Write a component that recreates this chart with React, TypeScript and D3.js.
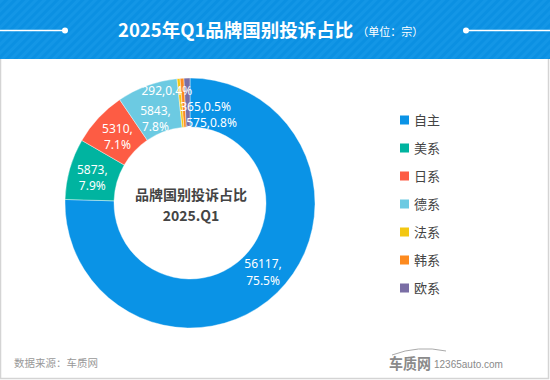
import React from "react";
import * as d3 from "d3";

const categories = ["自主", "美系", "日系", "德系", "法系", "韩系", "欧系"];
const values = [56117, 5873, 5310, 5843, 292, 365, 575];
const percents = ["75.5%", "7.9%", "7.1%", "7.8%", "0.4%", "0.5%", "0.8%"];
const colors = ["#0a93e6", "#00b4a0", "#fd5c44", "#6ccae2", "#f3c712", "#fd8a1f", "#7a6ea5"];
const titleText = "2025年Q1品牌国别投诉占比";
const unitText = "（单位：宗）";
const centerLines = ["品牌国别投诉占比", "2025.Q1"];
const sourceText = "数据来源：车质网";

// label layout: whether label is one line, and nudge for crowded small slices
const labelLayout: Record<string, { oneLine: boolean; dx: number; dy: number }> = {
  自主: { oneLine: false, dx: 3, dy: -3 },
  美系: { oneLine: false, dx: -1, dy: 2 },
  日系: { oneLine: false, dx: 1, dy: 2 },
  德系: { oneLine: false, dx: 0, dy: 10 },
  法系: { oneLine: true, dx: -14, dy: -12.5 },
  韩系: { oneLine: true, dx: 22, dy: 4 },
  欧系: { oneLine: true, dx: 24, dy: 20.5 },
};

export default function App() {
  const W = 550, H = 380;
  const cx = 190, cy = 203, R = 125, r = 76;
  const data = categories.map((c, i) => ({ c, v: values[i], p: percents[i], color: colors[i] }));
  const pie = d3.pie<any>().value((d) => d.v).sort(null).startAngle(0).endAngle(2 * Math.PI);
  const arcs = pie(data);
  const arc = d3.arc<any>().innerRadius(r).outerRadius(R);
  const labelArc = d3.arc<any>().innerRadius((r + R) / 2).outerRadius((r + R) / 2);
  const font = "'Noto Sans CJK SC', 'Noto Sans', sans-serif";
  const numFont = "'Noto Sans', 'Open Sans', sans-serif";
  const lh = 16.5;

  return (
    <svg width={W} height={H} style={{ position: "absolute", left: 0, top: 0 }} fontFamily={font}>
      <defs>
        <pattern id="stripes" width="6" height="6" patternUnits="userSpaceOnUse" patternTransform="rotate(45)">
          <rect width="6" height="6" fill="#0b90e2" />
          <rect width="3" height="6" fill="#1396e6" />
        </pattern>
      </defs>
      <rect x={0} y={0} width={W} height={H} fill="#fff" />
      <rect x={0.5} y={0.5} width={W - 2} height={H - 2} fill="none" stroke="#d4d4d4" strokeWidth={1.5} />
      <rect x={0} y={0} width={W} height={59} fill="url(#stripes)" />
      <line x1={0} x2={65} y1={30.5} y2={30.5} stroke="#fff" strokeWidth={1.5} />
      <circle cx={65} cy={30.5} r={3} fill="#fff" />
      <line x1={466} x2={W} y1={30.5} y2={30.5} stroke="#fff" strokeWidth={1.5} />
      <circle cx={466} cy={30.5} r={3} fill="#fff" />
      <text x={118} y={37} fill="#fff" fontSize={18.5} fontWeight="bold">
        {titleText}
        <tspan fontSize={11} fontWeight="normal" dx={4} dy={-1}>{unitText}</tspan>
      </text>

      <g transform={`translate(${cx},${cy})`}>
        {arcs.map((a, i) => (
          <path key={i} d={arc(a) as string} fill={a.data.color} stroke="#fff" strokeWidth={0.4} />
        ))}
        {arcs.map((a, i) => {
          const [x, y] = labelArc.centroid(a);
          const L = labelLayout[a.data.c];
          const px = x + L.dx, py = y + L.dy;
          if (L.oneLine) {
            return (
              <text key={i} x={px} y={py} dy="0.35em" textAnchor="middle" fill="#fff" fontSize={12} fontFamily={numFont}>
                {a.data.v},{a.data.p}
              </text>
            );
          }
          return (
            <g key={i}>
              <text x={px} y={py - lh / 2} dy="0.35em" textAnchor="middle" fill="#fff" fontSize={12} fontFamily={numFont}>{a.data.v},</text>
              <text x={px} y={py + lh / 2} dy="0.35em" textAnchor="middle" fill="#fff" fontSize={12} fontFamily={numFont}>{a.data.p}</text>
            </g>
          );
        })}
        <text x={1} y={-3} textAnchor="middle" fill="#444" fontSize={14} fontWeight="bold">{centerLines[0]}</text>
        <text x={1} y={18} textAnchor="middle" fill="#444" fontSize={14} fontWeight="bold">{centerLines[1]}</text>
      </g>

      {categories.map((c, i) => (
        <g key={c} transform={`translate(400,${120 + i * 28})`}>
          <rect x={0} y={-4.5} width={9} height={9} fill={colors[i]} />
          <text x={14} y={0} dy="0.35em" fontSize={13} fill="#444">{c}</text>
        </g>
      ))}

      <text x={14} y={367} fontSize={10.5} fill="#999">{sourceText}</text>
      <text x={389} y={369} fontSize={15} fontWeight="bold" fill="#8a8a8a" textLength={42} lengthAdjust="spacingAndGlyphs">车质网</text>
      <path d="M392,355 Q418,345 446,351" fill="none" stroke="#aaa" strokeWidth={1} />
      <text x={434} y={368} fontSize={10} fill="#8a8a8a" fontFamily="'Liberation Sans', Arial, sans-serif">12365auto.com</text>
    </svg>
  );
}
